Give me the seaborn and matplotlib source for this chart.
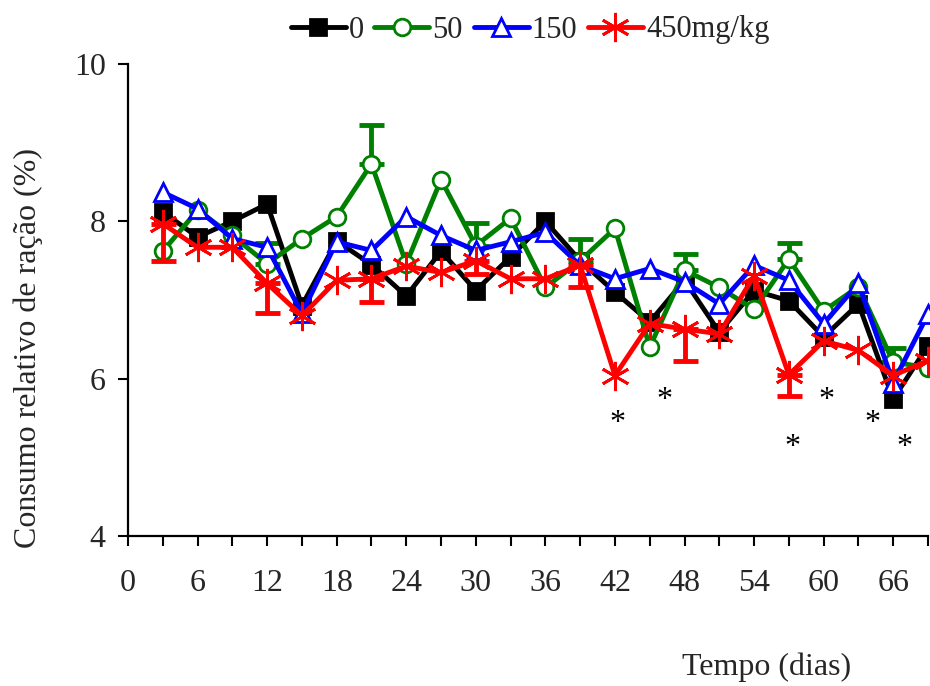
import matplotlib
matplotlib.use("Agg")
import matplotlib.pyplot as plt
import seaborn as sns
import pandas as pd
from matplotlib.lines import Line2D

# Sampling days
dias = [3, 6, 9, 12, 15, 18, 21, 24, 27, 30, 33, 36, 39, 42, 45, 48, 51, 54, 57, 60, 63, 66, 69]

# Relative feed intake (%) per dose group
dose_0 = [8.12, 7.80, 8.00, 8.22, 6.93, 7.75, 7.45, 7.05, 7.62, 7.12, 7.55, 8.00,
          7.50, 7.10, 6.72, 7.25, 6.59, 7.12, 6.99, 6.53, 6.95, 5.74, 6.42]
dose_50 = [7.62, 8.14, 7.82, 7.46, 7.78, 8.06, 8.73, 7.46, 8.53, 7.69, 8.04, 7.16,
           7.50, 7.91, 6.40, 7.38, 7.16, 6.88, 7.52, 6.86, 7.17, 6.21, 6.14]
dose_150 = [8.37, 8.16, 7.78, 7.67, 6.83, 7.74, 7.63, 8.06, 7.82, 7.63, 7.74, 7.86,
            7.44, 7.27, 7.40, 7.23, 6.95, 7.44, 7.25, 6.70, 7.21, 5.95, 6.82]
dose_450 = [7.97, 7.67, 7.67, 7.21, 6.80, 7.25, 7.27, 7.43, 7.35, 7.50, 7.27, 7.27,
            7.44, 6.04, 6.70, 6.63, 6.57, 7.31, 6.05, 6.48, 6.36, 6.04, 6.23]

# One-sided error bars (day, bar end)
err_50_dias = [12, 21, 30, 39, 48, 57, 66]
err_50_top = [7.72, 9.22, 7.98, 7.77, 7.58, 7.72, 6.39]
err_450_dias = [3, 12, 21, 30, 39, 48, 57]
err_450_bottom = [7.50, 6.83, 6.97, 7.33, 7.16, 6.23, 5.78]

# Significance marks
sig_x = [42.2, 46.3, 57.3, 60.2, 64.2, 67.0]
sig_y = [5.43, 5.72, 5.12, 5.72, 5.43, 5.12]

legend_labels = ["0", "50", "150", "450mg/kg"]

sns.set_style("ticks")
plt.rcParams["font.family"] = ["Liberation Serif", "DejaVu Serif"]

fig = plt.figure(figsize=(9.3, 6.86), dpi=100)
ax = fig.add_axes([128 / 930, 150 / 686, 800 / 930, 472 / 686])

df = pd.DataFrame({"dia": dias, "d0": dose_0, "d50": dose_50,
                   "d150": dose_150, "d450": dose_450})
by_day = df.set_index("dia")

lw = 3.5
styles = [
    ("d0", "black", "s", 12, "black"),
    ("d50", "#008000", "o", 12, "white"),
    ("d150", "#0000ff", "^", 13, "white"),
    ("d450", "#ff0000", (6, 2, 0), 21, "#ff0000"),
]

# Upward bars for the 50 mg/kg group
ax.errorbar(err_50_dias, [by_day.loc[d, "d50"] for d in err_50_dias],
            yerr=[[0] * len(err_50_dias),
                  [t - by_day.loc[d, "d50"] for d, t in zip(err_50_dias, err_50_top)]],
            fmt="none", ecolor="#008000", elinewidth=lw, capsize=9, capthick=lw, zorder=2)

for col, color, marker, ms, mfc in styles:
    sns.lineplot(data=df, x="dia", y=col, ax=ax, color=color, linewidth=lw,
                 marker=marker, markersize=ms, markerfacecolor=mfc,
                 markeredgecolor=color, markeredgewidth=2.0,
                 clip_on=False, zorder=3)

# Downward bars for the 450 mg/kg group
ax.errorbar(err_450_dias, [by_day.loc[d, "d450"] for d in err_450_dias],
            yerr=[[by_day.loc[d, "d450"] - b for d, b in zip(err_450_dias, err_450_bottom)],
                  [0] * len(err_450_dias)],
            fmt="none", ecolor="#ff0000", elinewidth=lw, capsize=9, capthick=lw, zorder=4)

for x, y in zip(sig_x, sig_y):
    ax.text(x, y, "*", ha="center", va="center", fontsize=23, color="black")

ax.set_xlim(0, 69)
ax.set_ylim(4, 10)
ax.set_xticks(range(0, 67, 6))
ax.set_xticks(range(3, 70, 6), minor=True)
ax.set_yticks([4, 6, 8, 10])
ax.tick_params(axis="both", which="both", direction="out", length=7, width=1.5,
               labelsize=23, color="black")
ax.tick_params(axis="x", which="major", pad=17)
ax.tick_params(axis="y", pad=9)
for s in ["left", "bottom"]:
    ax.spines[s].set_linewidth(1.6)
    ax.spines[s].set_color("black")
ax.spines["top"].set_visible(False)
ax.spines["right"].set_visible(False)
ax.set_xlabel("")
ax.set_ylabel("")

fig.text(28 / 930, 1 - 348 / 686, "Consumo relativo de ração (%)", rotation=90,
         ha="center", va="center", fontsize=23)
fig.text(767 / 930, 1 - 667 / 686, "Tempo (dias)", ha="center", va="center", fontsize=23)

handles = []
for (col, color, marker, ms, mfc), lab in zip(styles, legend_labels):
    handles.append(Line2D([], [], color=color, linewidth=lw, marker=marker,
                          markersize=ms, markerfacecolor=mfc, markeredgecolor=color,
                          markeredgewidth=2.0))
fig.legend(handles, legend_labels, loc="center", bbox_to_anchor=(530 / 930, 1 - 30 / 686),
           ncol=4, frameon=False, fontsize=22, handlelength=1.8, handletextpad=0.1,
           columnspacing=0.35, borderaxespad=0)

fig.savefig("out.png", dpi=100)
